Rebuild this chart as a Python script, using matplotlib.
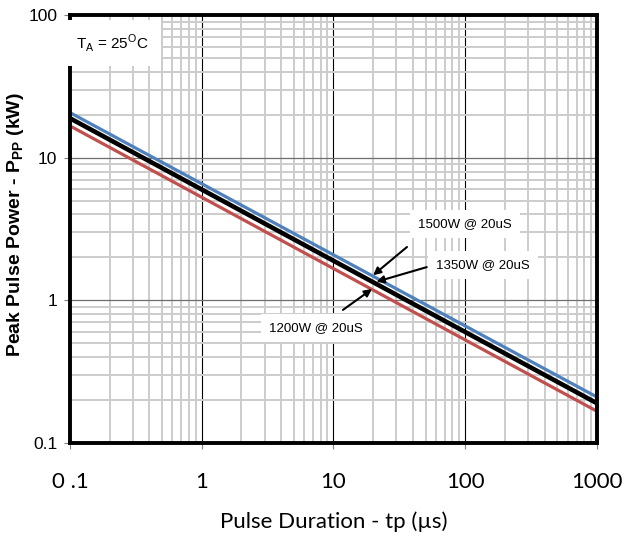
import matplotlib
matplotlib.use("Agg")
import matplotlib.pyplot as plt
from matplotlib.ticker import LogLocator, NullFormatter, FixedLocator

# Pulse duration (us) and peak pulse power (kW)
tp = [0.1, 1000]
p_1500 = [20.7, 0.21]
p_1350 = [18.9, 0.19]
p_1200 = [16.7, 0.167]

# rating points at 20 us (kW)
tp_ref = 20
ratings = [1.5, 1.35, 1.2]
rating_labels = ["1500W @ 20uS", "1350W @ 20uS", "1200W @ 20uS"]

xticks = [0.1, 1, 10, 100, 1000]
xtick_labels = ["0 .1", "1", "10", "100", "1000"]
yticks = [0.1, 1, 10, 100]
ytick_labels = ["0.1", "1", "10", "100"]

fig = plt.figure(figsize=(6.39, 5.46), dpi=100)
ax = fig.add_axes([0.1095, 0.1886, 0.8247, 0.7839])

ax.set_xscale("log")
ax.set_yscale("log")
ax.set_xlim(0.1, 1000)
ax.set_ylim(0.1, 100)

# grid
ax.xaxis.set_minor_locator(LogLocator(base=10, subs=range(2, 10)))
ax.yaxis.set_minor_locator(LogLocator(base=10, subs=range(2, 10)))
ax.xaxis.set_minor_formatter(NullFormatter())
ax.yaxis.set_minor_formatter(NullFormatter())
ax.grid(which="minor", axis="both", color="#cccccc", lw=1.4, zorder=0)
ax.grid(which="major", axis="x", color="black", lw=0.8, zorder=0.5)
ax.grid(which="major", axis="y", color="#6e6e6e", lw=0.9, zorder=0.5)
ax.set_axisbelow(True)

# curves
ax.plot(tp, p_1500, color="#4f81bd", lw=2.3, zorder=3)
ax.plot(tp, p_1200, color="#c0504d", lw=2.3, zorder=3)
ax.plot(tp, p_1350, color="black", lw=3.3, zorder=4)

# ticks
ax.xaxis.set_major_locator(FixedLocator(xticks))
ax.set_xticklabels(xtick_labels, fontfamily="Lato", fontsize=16)
ax.yaxis.set_major_locator(FixedLocator(yticks))
ax.set_yticklabels(ytick_labels, fontfamily="Liberation Sans", fontsize=12.5)
ax.tick_params(axis="x", which="major", length=4, width=0.8, color="#808080", pad=17)
ax.tick_params(axis="y", which="major", length=4, width=0.8, color="#808080", pad=5)
ax.tick_params(which="minor", length=0)

for s in ax.spines.values():
    s.set_linewidth(2.8)
    s.set_color("black")
    s.set_zorder(5)

ax.set_xlabel("Pulse Duration - tp (µs)", fontfamily="Lato", fontsize=16, labelpad=14)
ax.set_ylabel(r"Peak Pulse Power - P$_{\mathregular{PP}}$ (kW)", fontfamily="Liberation Sans",
              fontsize=14, fontweight="bold")
ax.yaxis.set_label_coords(-0.083, 0.51)

# temperature note
ax.text(0.080, 0.935, r"T$_{\mathregular{A}}$ = 25$^{\mathregular{O}}$C", transform=ax.transAxes,
        ha="center", va="center", fontsize=11, fontfamily="Liberation Sans", zorder=6,
        bbox=dict(boxstyle="square,pad=0.8", fc="white", ec="none"))

# rating labels and arrows
text_pos = [(0.7495, 0.5117), (0.784, 0.416), (0.467, 0.269)]
tail_pos = [(0.6395, 0.458), (0.677, 0.411), (0.518, 0.311)]
head_shift = [1.0, 1.06, 0.98]
for lab, kw, tpos, tail, hs in zip(rating_labels, ratings, text_pos, tail_pos, head_shift):
    ax.text(tpos[0], tpos[1], lab, transform=ax.transAxes, ha="center", va="center",
            fontsize=9.5, fontfamily="Liberation Sans", zorder=6,
            bbox=dict(boxstyle="square,pad=0.6", fc="white", ec="none"))
    ax.annotate("", xy=(tp_ref * hs, kw), xycoords="data",
                xytext=tail, textcoords="axes fraction",
                arrowprops=dict(arrowstyle="-|>", color="black", lw=1.5,
                                mutation_scale=11, shrinkA=0, shrinkB=0),
                zorder=7)

fig.savefig("out.png", dpi=100)
